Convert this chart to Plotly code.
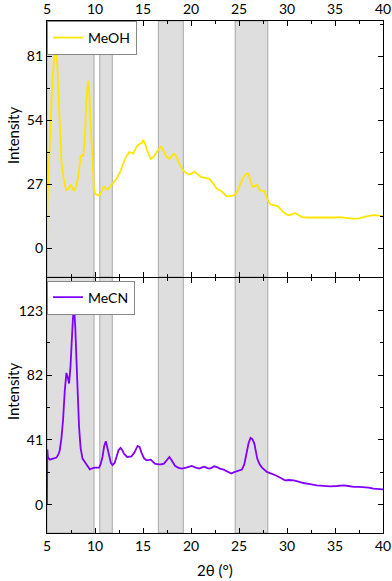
import plotly.graph_objects as go

# ---- data ----
meoh_x = [5.0, 5.05, 5.3, 5.55, 5.75, 5.9, 6.05, 6.2, 6.35, 6.5, 6.75, 7.0, 7.25, 7.47, 7.65, 7.82, 8.05, 8.24,
          8.4, 8.5, 8.65, 8.78, 8.9, 9.0, 9.15, 9.28, 9.4, 9.53, 9.65, 9.75, 9.88, 10.0, 10.2, 10.43, 10.7, 10.92,
          11.15, 11.37, 11.6, 11.9, 12.25, 12.6, 12.9, 13.2, 13.56, 13.8, 13.98, 14.15, 14.33, 14.6, 14.85, 15.02,
          15.2, 15.37, 15.6, 15.8, 16.05, 16.25, 16.55, 16.83, 16.94, 17.2, 17.45, 17.74, 18.0, 18.23, 18.45, 18.75,
          19.13, 19.45, 19.72, 20.0, 20.35, 20.7, 21.1, 21.5, 21.9, 22.3, 22.7, 23.2, 23.7, 24.1, 24.5, 24.75, 24.94,
          25.2, 25.46, 25.7, 25.9, 26.05, 26.2, 26.35, 26.5, 26.7, 26.86, 27.05, 27.2, 27.45, 27.65, 27.85, 28.07,
          28.3, 28.6, 29.0, 29.3, 29.6, 29.9, 30.16, 30.5, 30.86, 31.2, 31.56, 32.2, 32.77, 33.5, 34.17, 34.9, 35.55,
          36.3, 36.95, 37.5, 38.0, 38.5, 39.0, 39.5, 40.0]
meoh_y = [0, 20, 45, 70, 81, 83, 79, 66, 50, 37, 29, 24.5, 25.5, 27, 25.5, 24.2, 26.5, 30, 35, 38.8, 39.5, 39, 45,
          54, 65, 70.8, 66, 54, 42, 33, 26, 23.3, 22.6, 22.4, 24, 26.2, 25.3, 25.0, 26.2, 27.6, 29.5, 32.2, 35, 38.5,
          40.6, 40.5, 40, 41.5, 43, 44, 44.5, 45.8, 44.5, 42, 39.5, 37.8, 38.5, 39.7, 41.5, 43, 42.7, 41, 38.8, 37.8,
          39.2, 40, 39, 36, 33.2, 32, 31.2, 31.5, 32.5, 31.2, 30.1, 29.8, 29.4, 27.5, 25.2, 24.1, 22, 22.2, 22.4,
          23.5, 25.2, 28, 30.1, 31.4, 31.8, 30.5, 28.7, 26.5, 25.9, 26.6, 26.9, 25.6, 24.5, 24.3, 24.2, 22, 19.6,
          18.6, 18.2, 17.9, 16.8, 15.4, 14.6, 14, 14.4, 15, 14.1, 13.3, 13.1, 13.1, 13.0, 12.9, 13.1, 13.3, 13.0,
          12.5, 12.7, 13.3, 13.8, 14.1, 14.0, 13.7]

mecn_x = [5.0, 5.03, 5.1, 5.3, 5.6, 5.98, 6.2, 6.33, 6.5, 6.67, 6.85, 7.02, 7.15, 7.3, 7.45, 7.55, 7.7, 7.82, 7.95,
          8.07, 8.2, 8.34, 8.5, 8.7, 9.1, 9.46, 9.7, 9.98, 10.43, 10.6, 10.78, 10.95, 11.13, 11.3, 11.48, 11.65,
          11.83, 12.05, 12.24, 12.45, 12.66, 12.85, 13.0, 13.35, 13.8, 14.1, 14.44, 14.65, 14.85, 15.1, 15.37, 15.6,
          15.8, 16.24, 16.6, 16.94, 17.18, 17.45, 17.75, 18.0, 18.33, 18.7, 19.03, 19.5, 20.07, 20.5, 20.87, 21.15,
          21.4, 21.65, 21.9, 22.15, 22.4, 22.7, 23.0, 23.4, 23.7, 24.2, 24.5, 24.8, 25.3, 25.55, 25.74, 26.0, 26.2,
          26.4, 26.6, 26.9, 27.15, 27.4, 27.9, 28.3, 28.8, 29.3, 29.8, 30.2, 30.7, 31.2, 31.7, 32.4, 33.1, 33.8,
          34.5, 35.2, 35.9, 36.4, 36.95, 37.5, 38.0, 38.5, 39.0, 39.5, 40.0]
mecn_y = [0, 35, 30, 28.5, 29, 29.8, 32, 34.5, 42, 53.5, 72, 83.5, 81, 76.8, 88, 102, 118, 125.4, 112, 91.6, 68,
          49.3, 36, 29.2, 25.6, 22.4, 23, 23.5, 23.5, 26, 30.2, 37, 40.2, 36, 30.2, 26.5, 25, 26.5, 30.2, 34.5, 36,
          34.5, 32.4, 30.2, 30.6, 33, 37.2, 36.5, 32.8, 29.5, 28.1, 28.3, 28.5, 26, 25.5, 25.6, 26, 28, 30.2, 28,
          24.6, 23.3, 22.8, 23.5, 24.5, 23.5, 22.8, 23.6, 24.1, 23.3, 22.8, 23.3, 24.3, 23.8, 22.8, 22.2, 21.3,
          19.7, 20.6, 21.3, 22.2, 25.5, 32.4, 39, 42.3, 41.5, 38.7, 29.2, 25.5, 23.5, 20.7, 19.8, 18.6, 17, 15.4,
          15.6, 15.4, 14.6, 13.7, 13, 12.2, 11.9, 11.6, 11.8, 12.2, 11.8, 11.2, 11.3, 11.2, 10.8, 10.1, 9.9, 9.7]

band_start = [5.0, 10.5, 16.6, 24.6]
band_end = [9.9, 11.8, 19.2, 28.0]

x_ticks = [5, 10, 15, 20, 25, 30, 35, 40]
meoh_ticks = [0, 27, 54, 81]
mecn_ticks = [0, 41, 82, 123]

FONT = "Lato, 'Open Sans', sans-serif"
YELLOW = "#FFE600"
PURPLE = "#8000FF"

fig = go.Figure()
fig.add_trace(go.Scatter(x=meoh_x, y=meoh_y, mode="lines", name="MeOH",
                         line=dict(color=YELLOW, width=1.8), xaxis="x", yaxis="y", legend="legend"))
fig.add_trace(go.Scatter(x=mecn_x, y=mecn_y, mode="lines", name="MeCN",
                         line=dict(color=PURPLE, width=1.8), xaxis="x2", yaxis="y2", legend="legend2"))

shapes = []
for yref in ["y domain", "y2 domain"]:
    xref = "x" if yref.startswith("y ") else "x2"
    for s, e in zip(band_start, band_end):
        shapes.append(dict(type="rect", xref=xref, yref=yref, x0=s, x1=e, y0=0, y1=1,
                           fillcolor="#dedede", line=dict(color="#a8a8a8", width=1), layer="below"))

axis_common = dict(showline=True, linecolor="black", linewidth=1.2, mirror="ticks",
                   ticks="inside", ticklen=5, tickwidth=1.2, tickcolor="black",
                   showgrid=False, zeroline=False, automargin=False,
                   tickfont=dict(family=FONT, size=14, color="black"))

title_font = dict(family=FONT, size=15, color="black")
annotations = [
    dict(text="Intensity", xref="paper", yref="paper", x=0, xshift=-34, y=(533 - 136) / 512,
         textangle=-90, showarrow=False, font=title_font, xanchor="center", yanchor="middle"),
    dict(text="Intensity", xref="paper", yref="paper", x=0, xshift=-34, y=(533 - 392) / 512,
         textangle=-90, showarrow=False, font=title_font, xanchor="center", yanchor="middle"),
    dict(text="2θ (°)", xref="paper", yref="paper", x=0.5, y=(533 - 570) / 512,
         showarrow=False, font=title_font, xanchor="center", yanchor="middle"),
]

fig.update_layout(
    width=392, height=581,
    margin=dict(l=47, r=9, t=21, b=48),
    paper_bgcolor="white", plot_bgcolor="white",
    font=dict(family=FONT, size=14, color="black"),
    shapes=shapes,
    annotations=annotations,
    xaxis=dict(domain=[0, 1], anchor="y", side="top", range=[5, 40], tickvals=x_ticks,
               minor=dict(ticks="inside", ticklen=3, dtick=2.5, tick0=5, tickcolor="black", tickwidth=1),
               **axis_common),
    yaxis=dict(domain=[0.5, 1], anchor="x", range=[-12, 96], tickvals=meoh_ticks,
               minor=dict(ticks="inside", ticklen=3, dtick=13.5, tick0=0, tickcolor="black", tickwidth=1),
               **axis_common),
    xaxis2=dict(domain=[0, 1], anchor="y2", side="bottom", range=[5, 40], tickvals=x_ticks,
                minor=dict(ticks="inside", ticklen=3, dtick=2.5, tick0=5, tickcolor="black", tickwidth=1),
                **axis_common),
    yaxis2=dict(domain=[0, 0.499], anchor="x2", range=[-18, 144], tickvals=mecn_ticks,
                minor=dict(ticks="inside", ticklen=3, dtick=20.5, tick0=0, tickcolor="black", tickwidth=1),
                **axis_common),
    legend=dict(x=0, y=1, xanchor="left", yanchor="top", bgcolor="white",
                bordercolor="#888888", borderwidth=1, font=dict(family=FONT, size=14),
                itemwidth=30, tracegroupgap=0),
    legend2=dict(x=0, y=0.493, xanchor="left", yanchor="top", bgcolor="white",
                 bordercolor="#888888", borderwidth=1, font=dict(family=FONT, size=14),
                 itemwidth=30, tracegroupgap=0),
    showlegend=True,
)

fig.write_html("out.html", config={"displayModeBar": False},
               post_script="document.body.style.margin='0px';")
